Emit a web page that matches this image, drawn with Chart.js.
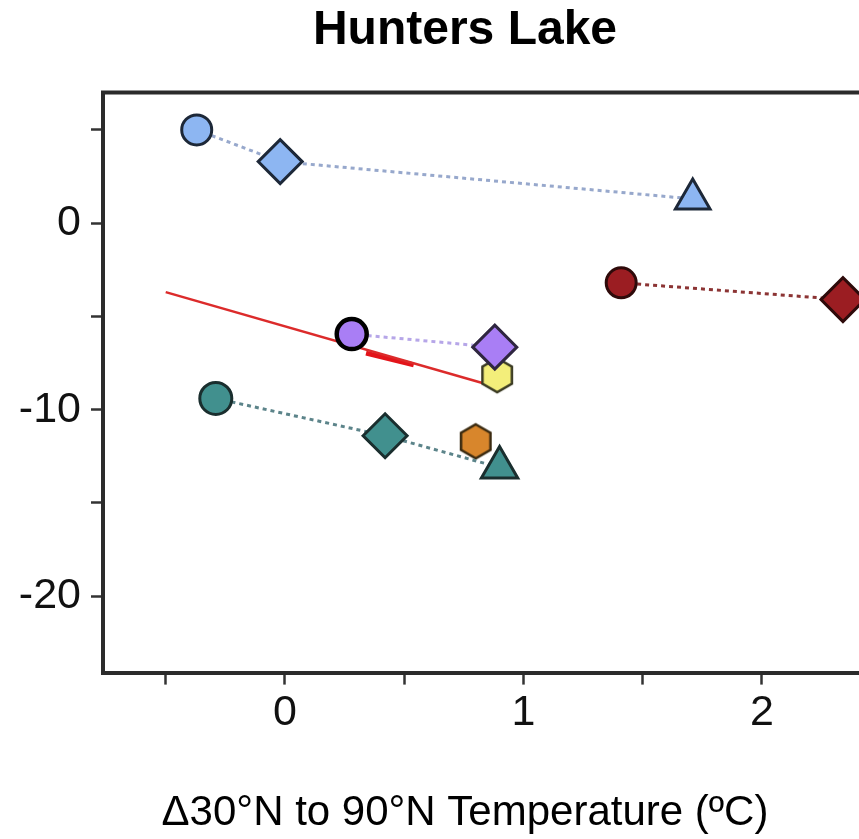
<!DOCTYPE html>
<html>
<head>
<meta charset="utf-8">
<script src="https://cdn.jsdelivr.net/npm/chart.js@4/dist/chart.umd.min.js"></script>
<style>
  html, body { margin: 0; padding: 0; background: #fff; overflow: hidden; }
  #grafik { display: block; }
</style>
</head>
<body>
<canvas id="grafik" width="930" height="839"></canvas>
<script>
// axis ticks
const xTicks = [-0.5, 0, 0.5, 1, 1.5, 2];
const yTicks = [5, 0, -5, -10, -15, -20];

// series (x = temperature change, y = value at the lake)
const blueX = [-0.37, -0.02, 1.71];
const blueY = [5.0, 3.3, 1.3];
const redX = [1.41, 2.34];
const redY = [-3.2, -4.1];
const purpleX = [0.28, 0.88];
const purpleY = [-5.95, -6.65];
const yellowX = [0.89];
const yellowY = [-8.15];
const tealX = [-0.29, 0.42, 0.90];
const tealY = [-9.4, -11.4, -13.1];
const orangeX = [0.80];
const orangeY = [-11.7];

// fitted line and its short marker segment
const fitX = [-0.5, 0.89];
const fitY = [-3.7, -8.8];
const segX = [0.34, 0.54];
const segY = [-6.97, -7.6];

function toPoints(xs, ys) {
  return xs.map((x, i) => ({ x, y: ys[i] }));
}

// pointy-top hexagon used as a point style
function hexagon(r, fill, stroke) {
  const c = document.createElement('canvas');
  const s = Math.ceil(2 * r + 6);
  c.width = s;
  c.height = s;
  const g = c.getContext('2d');
  g.beginPath();
  for (let i = 0; i < 6; i++) {
    const a = -Math.PI / 2 + i * Math.PI / 3;
    const px = s / 2 + r * Math.cos(a);
    const py = s / 2 + r * Math.sin(a);
    if (i === 0) g.moveTo(px, py); else g.lineTo(px, py);
  }
  g.closePath();
  g.fillStyle = fill;
  g.fill();
  g.lineWidth = 2.5;
  g.strokeStyle = stroke;
  g.stroke();
  return c;
}

// top and right edges of the plot frame (left and bottom come from the axis borders)
const frame = {
  id: 'frame',
  beforeDatasetsDraw(chart) {
    const { ctx, chartArea: a } = chart;
    ctx.save();
    ctx.strokeStyle = '#2b2b2b';
    ctx.lineWidth = 4;
    ctx.beginPath();
    ctx.moveTo(a.left - 2, a.top);
    ctx.lineTo(a.right - 2, a.top);
    ctx.lineTo(a.right - 2, a.bottom);
    ctx.stroke();
    ctx.restore();
  }
};

const dotted = { showLine: true, borderWidth: 3, borderDash: [4, 4], borderCapStyle: 'butt' };

const datasets = [
  {
    ...dotted,
    data: toPoints(blueX, blueY),
    borderColor: '#97a8cc',
    pointStyle: ['circle', 'rectRot', 'triangle'],
    pointRadius: [15, 22, 20],
    pointBackgroundColor: '#8db6f2',
    pointBorderColor: '#1d2838',
    pointBorderWidth: 3,
    order: 1
  },
  {
    ...dotted,
    data: toPoints(redX, redY),
    borderColor: '#8c3434',
    pointStyle: ['circle', 'rectRot'],
    pointRadius: [15, 22],
    pointBackgroundColor: '#9b1d22',
    pointBorderColor: '#2e0a0a',
    pointBorderWidth: 3,
    order: 1
  },
  {
    ...dotted,
    data: toPoints(purpleX, purpleY),
    borderColor: '#b6a6e8',
    pointStyle: ['circle', 'rectRot'],
    pointRadius: [15, 22],
    pointBackgroundColor: '#a97ef5',
    pointBorderColor: ['#000000', '#2f2640'],
    pointBorderWidth: [4.5, 3],
    order: 1
  },
  {
    data: toPoints(yellowX, yellowY),
    showLine: false,
    pointStyle: hexagon(17, '#f3ee7a', '#3a3a22'),
    order: 2
  },
  {
    ...dotted,
    data: toPoints(tealX, tealY),
    borderColor: '#5c848a',
    pointStyle: ['circle', 'rectRot', 'triangle'],
    pointRadius: [16, 22, 21],
    pointBackgroundColor: '#41908e',
    pointBorderColor: '#1a2e2e',
    pointBorderWidth: 3,
    order: 1
  },
  {
    data: toPoints(orangeX, orangeY),
    showLine: false,
    pointStyle: hexagon(17, '#d8862c', '#3a2a10'),
    order: 2
  },
  {
    data: toPoints(fitX, fitY),
    showLine: true,
    borderColor: '#dc2b2b',
    borderWidth: 2.5,
    pointRadius: 0,
    order: 3
  },
  {
    data: toPoints(segX, segY),
    showLine: true,
    borderColor: '#e3141a',
    borderWidth: 5,
    pointRadius: 0,
    order: 3
  }
];

const tickFont = { family: 'Liberation Sans', size: 43 };

// the canvas is wider than the page; its right part (and frame edge) falls outside the view
new Chart(document.getElementById('grafik').getContext('2d'), {
  type: 'scatter',
  data: { datasets },
  options: {
    responsive: false,
    animation: false,
    devicePixelRatio: 1,
    events: [],
    layout: { padding: 0, autoPadding: false },
    scales: {
      x: {
        type: 'linear',
        min: -0.763,
        max: 2.705,
        afterBuildTicks: s => { s.ticks = xTicks.map(v => ({ value: v })); },
        afterFit: s => { s.height = 116; },
        ticks: {
          font: tickFont,
          color: '#111',
          padding: 3,
          maxRotation: 0,
          autoSkip: false,
          callback: v => Number.isInteger(v) ? String(v) : ''
        },
        grid: { drawOnChartArea: false, drawTicks: true, tickLength: 12, tickWidth: 2.5, tickColor: '#333' },
        border: { display: true, color: '#2b2b2b', width: 4 }
      },
      y: {
        type: 'linear',
        min: -24.1,
        max: 7.0,
        afterBuildTicks: s => { s.ticks = yTicks.map(v => ({ value: v })); },
        afterFit: s => { s.width = 103; },
        ticks: {
          font: tickFont,
          color: '#111',
          padding: 10,
          autoSkip: false,
          callback: v => v % 10 === 0 ? String(v) : ''
        },
        grid: { drawOnChartArea: false, drawTicks: true, tickLength: 12, tickWidth: 2.5, tickColor: '#333' },
        border: { display: true, color: '#2b2b2b', width: 4 }
      }
    },
    plugins: {
      legend: { display: false },
      tooltip: { enabled: false },
      title: {
        display: true,
        text: 'Hunters Lake',
        color: '#000',
        font: { family: 'Liberation Sans', size: 48, weight: 'bold', lineHeight: 1.2 },
        padding: { top: 2, bottom: 33 }
      },
      subtitle: {
        display: true,
        position: 'bottom',
        text: 'Δ30°N to 90°N Temperature (ºC)',
        color: '#000',
        font: { family: 'Liberation Sans', size: 42, weight: 'normal', lineHeight: 1.2 },
        padding: { top: 0, bottom: 0 }
      }
    }
  },
  plugins: [frame]
});
</script>
</body>
</html>
